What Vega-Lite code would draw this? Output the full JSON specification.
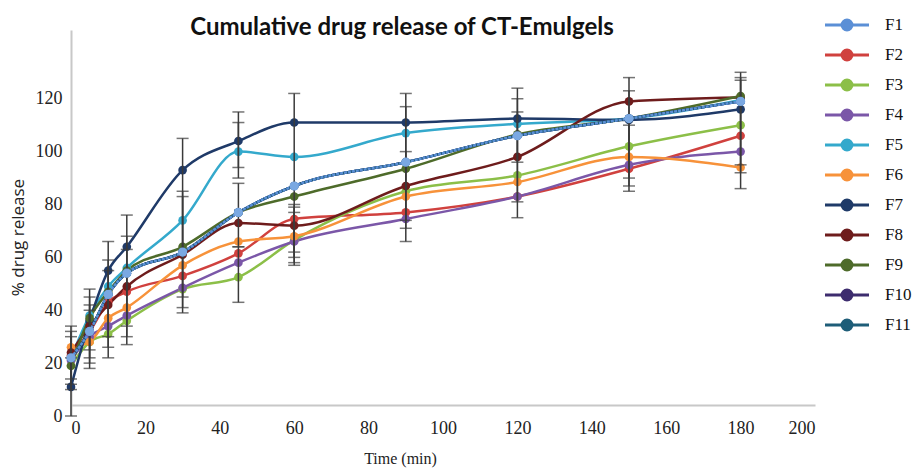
{
  "$schema": "https://vega.github.io/schema/vega-lite/v6.json",
  "autosize": "none",
  "width": 744,
  "height": 386,
  "padding": {"left": 71, "top": 30, "right": 101, "bottom": 54},
  "background": "white",
  "title": {
    "text": "Cumulative drug release of CT-Emulgels",
    "font": "Lato",
    "fontSize": 24,
    "fontWeight": "bold",
    "color": "#111111",
    "anchor": "middle",
    "dx": -41,
    "dy": 26,
    "offset": 0
  },
  "config": {
    "view": {"stroke": null},
    "axis": {"grid": false, "ticks": false, "domainColor": "#c8c8c8", "domainWidth": 2,
      "labelFont": "Liberation Serif", "labelFontSize": 18, "labelColor": "#222222",
      "titleFontWeight": "normal", "titleColor": "#222222"}
  },
  "datasets": {
    "rel": [
      {"f":"F1","t":0,"v":22},{"f":"F1","t":5,"v":32},{"f":"F1","t":10,"v":46},{"f":"F1","t":15,"v":54},{"f":"F1","t":30,"v":62},{"f":"F1","t":45,"v":77},{"f":"F1","t":60,"v":87},{"f":"F1","t":90,"v":96},{"f":"F1","t":120,"v":106},{"f":"F1","t":150,"v":112.5},{"f":"F1","t":180,"v":119},
      {"f":"F2","t":0,"v":23},{"f":"F2","t":5,"v":32},{"f":"F2","t":10,"v":43},{"f":"F2","t":15,"v":47},{"f":"F2","t":30,"v":53},{"f":"F2","t":45,"v":61.5},{"f":"F2","t":60,"v":74.5},{"f":"F2","t":90,"v":77},{"f":"F2","t":120,"v":83},{"f":"F2","t":150,"v":93.5},{"f":"F2","t":180,"v":106},
      {"f":"F3","t":0,"v":19},{"f":"F3","t":5,"v":28},{"f":"F3","t":10,"v":31},{"f":"F3","t":15,"v":36},{"f":"F3","t":30,"v":48},{"f":"F3","t":45,"v":52.5},{"f":"F3","t":60,"v":66.5},{"f":"F3","t":90,"v":85},{"f":"F3","t":120,"v":91},{"f":"F3","t":150,"v":102},{"f":"F3","t":180,"v":110},
      {"f":"F4","t":0,"v":21},{"f":"F4","t":5,"v":30},{"f":"F4","t":10,"v":34},{"f":"F4","t":15,"v":38},{"f":"F4","t":30,"v":48.5},{"f":"F4","t":45,"v":58},{"f":"F4","t":60,"v":66},{"f":"F4","t":90,"v":74.5},{"f":"F4","t":120,"v":83},{"f":"F4","t":150,"v":95},{"f":"F4","t":180,"v":100},
      {"f":"F5","t":0,"v":22},{"f":"F5","t":5,"v":38},{"f":"F5","t":10,"v":49},{"f":"F5","t":15,"v":56},{"f":"F5","t":30,"v":74},{"f":"F5","t":45,"v":100},{"f":"F5","t":60,"v":98},{"f":"F5","t":90,"v":107},{"f":"F5","t":120,"v":110.5},{"f":"F5","t":150,"v":112.5},{"f":"F5","t":180,"v":119.5},
      {"f":"F6","t":0,"v":26},{"f":"F6","t":5,"v":28},{"f":"F6","t":10,"v":37},{"f":"F6","t":15,"v":41},{"f":"F6","t":30,"v":57},{"f":"F6","t":45,"v":66},{"f":"F6","t":60,"v":68},{"f":"F6","t":90,"v":83},{"f":"F6","t":120,"v":88.5},{"f":"F6","t":150,"v":98},{"f":"F6","t":180,"v":94},
      {"f":"F7","t":0,"v":11},{"f":"F7","t":5,"v":36},{"f":"F7","t":10,"v":55},{"f":"F7","t":15,"v":64},{"f":"F7","t":30,"v":93},{"f":"F7","t":45,"v":104},{"f":"F7","t":60,"v":111},{"f":"F7","t":90,"v":111},{"f":"F7","t":120,"v":112.5},{"f":"F7","t":150,"v":112},{"f":"F7","t":180,"v":116},
      {"f":"F8","t":0,"v":24},{"f":"F8","t":5,"v":34},{"f":"F8","t":10,"v":42},{"f":"F8","t":15,"v":49},{"f":"F8","t":30,"v":61},{"f":"F8","t":45,"v":73},{"f":"F8","t":60,"v":72},{"f":"F8","t":90,"v":87},{"f":"F8","t":120,"v":98},{"f":"F8","t":150,"v":119},{"f":"F8","t":180,"v":120.5},
      {"f":"F9","t":0,"v":19},{"f":"F9","t":5,"v":37},{"f":"F9","t":10,"v":47},{"f":"F9","t":15,"v":55},{"f":"F9","t":30,"v":64},{"f":"F9","t":45,"v":77},{"f":"F9","t":60,"v":83},{"f":"F9","t":90,"v":93.5},{"f":"F9","t":120,"v":106.5},{"f":"F9","t":150,"v":112.5},{"f":"F9","t":180,"v":121},
      {"f":"F10","t":0,"v":22},{"f":"F10","t":5,"v":32},{"f":"F10","t":10,"v":46},{"f":"F10","t":15,"v":54},{"f":"F10","t":30,"v":62},{"f":"F10","t":45,"v":77},{"f":"F10","t":60,"v":87},{"f":"F10","t":90,"v":96},{"f":"F10","t":120,"v":106},{"f":"F10","t":150,"v":112.5},{"f":"F10","t":180,"v":119},
      {"f":"F11","t":0,"v":22},{"f":"F11","t":5,"v":32},{"f":"F11","t":10,"v":46},{"f":"F11","t":15,"v":54},{"f":"F11","t":30,"v":62},{"f":"F11","t":45,"v":77},{"f":"F11","t":60,"v":87},{"f":"F11","t":90,"v":96},{"f":"F11","t":120,"v":106},{"f":"F11","t":150,"v":112.5},{"f":"F11","t":180,"v":119}
    ],
    "err": [
      {"t":0,"lo":0,"hi":22},{"t":0,"lo":12,"hi":34},{"t":0,"lo":14,"hi":32},{"t":0,"lo":10,"hi":30},
      {"t":5,"lo":18,"hi":48},{"t":5,"lo":20,"hi":45},{"t":5,"lo":22,"hi":42},{"t":5,"lo":25,"hi":40},
      {"t":10,"lo":22,"hi":66},{"t":10,"lo":26,"hi":59},{"t":10,"lo":30,"hi":55},
      {"t":15,"lo":27,"hi":76},{"t":15,"lo":30,"hi":68},{"t":15,"lo":34,"hi":63},
      {"t":30,"lo":39,"hi":105},{"t":30,"lo":41,"hi":85},{"t":30,"lo":45,"hi":83},
      {"t":45,"lo":94,"hi":115},{"t":45,"lo":90,"hi":111},{"t":45,"lo":64,"hi":88},{"t":45,"lo":43,"hi":64},
      {"t":60,"lo":57,"hi":122},{"t":60,"lo":60,"hi":79},{"t":60,"lo":62,"hi":77},{"t":60,"lo":58,"hi":80},
      {"t":90,"lo":66,"hi":122},{"t":90,"lo":71,"hi":117},{"t":90,"lo":74,"hi":100},
      {"t":120,"lo":75,"hi":124},{"t":120,"lo":81,"hi":120},{"t":120,"lo":96,"hi":115},
      {"t":150,"lo":85,"hi":128},{"t":150,"lo":87,"hi":123},{"t":150,"lo":90,"hi":110},
      {"t":180,"lo":86,"hi":130},{"t":180,"lo":92,"hi":128},{"t":180,"lo":95,"hi":127}
    ]
  },
  "encoding": {
    "x": {"field": "t", "type": "quantitative",
      "scale": {"domain": [0, 200], "nice": false, "zero": false},
      "axis": {"values": [0,20,40,60,80,100,120,140,160,180,200], "title": "Time (min)", "offset": -11,
        "labelPadding": 14, "titleFont": "Liberation Serif", "titleFontSize": 16,
        "titleX": 329, "titleY": 53, "titleBaseline": "middle"}}
  },
  "layer": [
    {
      "data": {"name": "rel"},
      "mark": {"type": "line", "interpolate": "monotone", "strokeWidth": 2.5},
      "encoding": {
        "y": {"field": "v", "type": "quantitative", "title": "% drug release",
          "scale": {"domain": [0, 146], "nice": false},
          "axis": {"values": [0,20,40,60,80,100,120], "title": "% drug release",
            "labelPadding": 9, "titleFont": "Open Sans", "titleFontSize": 17,
            "titleAngle": -90, "titleX": -53, "titleY": 207, "titleAlign": "center", "titleBaseline": "middle"}},
        "color": {"field": "f", "type": "nominal",
          "scale": {"domain": ["F1","F2","F3","F4","F5","F6","F7","F8","F9","F10","F11"],
            "range": ["#5b8fd6","#d0413e","#8cbf48","#7b57a8","#34a9cc","#f7923a","#1f3a68","#6e1c1c","#4e6b2a","#3d2c6e","#1e5d78"]},
          "legend": {"orient": "none", "legendX": 751, "legendY": -16, "padding": 0, "title": null,
            "symbolType": "M-1,0L7,0M2.1,0A0.9,0.9 0 1,0 3.9,0A0.9,0.9 0 1,0 2.1,0Z",
            "symbolSize": 121, "symbolStrokeWidth": 3, "rowPadding": 8, "clipHeight": 22, "labelOffset": 46,
            "labelFont": "Liberation Serif", "labelFontSize": 17, "labelColor": "#111111",
            "encode": {"symbols": {"update": {"stroke": {"scale": "color", "field": "value"}, "fill": {"scale": "color", "field": "value"}, "strokeWidth": {"value": 3}, "opacity": {"value": 1}}}}}}
      }
    },
    {
      "data": {"name": "rel"},
      "mark": {"type": "point", "filled": true, "size": 75, "opacity": 1},
      "encoding": {
        "y": {"field": "v", "type": "quantitative", "title": "% drug release"},
        "color": {"field": "f", "type": "nominal"}
      }
    },
    {
      "data": {"name": "err"},
      "mark": {"type": "errorbar", "ticks": {"size": 12, "color": "#3a3a3a", "thickness": 1.5}, "rule": {"color": "#3a3a3a", "strokeWidth": 1.5}},
      "encoding": {
        "y": {"field": "lo", "type": "quantitative", "title": "% drug release"},
        "y2": {"field": "hi"}
      }
    },
    {
      "data": {"name": "rel"},
      "transform": [{"filter": {"field": "f", "equal": "F1"}}],
      "mark": {"type": "line", "interpolate": "monotone", "strokeWidth": 2.5, "strokeDash": [3, 1]},
      "encoding": {
        "y": {"field": "v", "type": "quantitative", "title": "% drug release"},
        "color": {"field": "f", "type": "nominal"}
      }
    },
    {
      "data": {"name": "rel"},
      "transform": [{"filter": {"field": "f", "equal": "F1"}}],
      "mark": {"type": "point", "filled": true, "size": 85, "opacity": 1, "color": "#7aa8e2"},
      "encoding": {
        "y": {"field": "v", "type": "quantitative", "title": "% drug release"}
      }
    }
  ]
}
